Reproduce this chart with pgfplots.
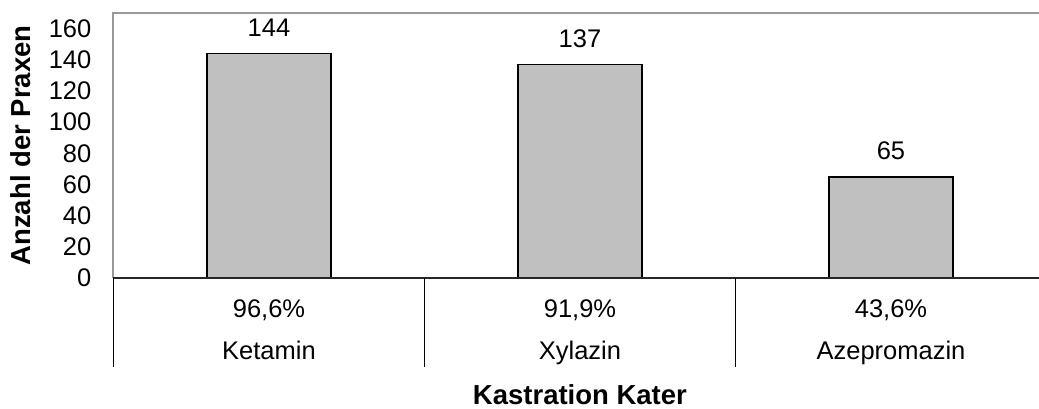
\documentclass[border=0pt]{standalone}
\usepackage{fontspec}
\setmainfont{Liberation Sans}
\usepackage{pgfplots}
\pgfplotsset{compat=1.18}
\definecolor{barfill}{HTML}{C0C0C0}
\definecolor{framegray}{HTML}{999999}
\newcommand{\reg}{\fontsize{25.5}{30}\selectfont}
\newcommand{\bld}{\fontsize{27.5}{32}\selectfont\bfseries}
\begin{document}
\begin{tikzpicture}
\begin{axis}[
  scale only axis,
  width=925.5pt, height=265pt,
  xmin=-0.5, xmax=2.476,
  ymin=0, ymax=170,
  clip=false,
  axis line style={draw=none},
  ytick={0,20,...,160},
  xtick=data,
  xticklabels={Ketamin,Xylazin,Azepromazin},
  major tick length=0pt,
  /pgf/number format/assume math mode=true,
  tick label style={font=\reg},
  yticklabel style={anchor=east, inner sep=0pt, xshift=-22pt},
  xticklabel style={anchor=base, inner sep=0pt, yshift=-81pt},
  xlabel={Kastration Kater},
  xlabel style={font=\bld, at={(axis description cs:0.504,0)}, anchor=base, inner sep=0pt, yshift=-126pt},
  ylabel={Anzahl der Praxen},
  ylabel style={font=\bld, at={([xshift=-92.5pt]axis description cs:0,0.5)}, anchor=center},
  ybar, bar width=124pt,
  nodes near coords,
  every node near coord/.append style={font=\reg, anchor=base, inner sep=0pt, yshift=17pt},
]
\addplot[fill=barfill, draw=black, line width=1.8pt] coordinates {(0,144) (1,137) (2,65)};
\draw[framegray, line width=2pt] (rel axis cs:0,0) -- (rel axis cs:0,1) -- (rel axis cs:1,1);
\draw[black!85, line width=1.8pt] (rel axis cs:0,0) -- (rel axis cs:1,0);
\draw[black, line width=1.3pt] (axis cs:-0.5,0) -- ([yshift=-89pt]axis cs:-0.5,0);
\draw[black, line width=1.3pt] (axis cs:0.5,0) -- ([yshift=-89pt]axis cs:0.5,0);
\draw[black, line width=1.3pt] (axis cs:1.5,0) -- ([yshift=-89pt]axis cs:1.5,0);
\node[font=\reg, anchor=base, inner sep=0pt] at ([yshift=-39pt]axis cs:0,0) {96,6\%};
\node[font=\reg, anchor=base, inner sep=0pt] at ([yshift=-39pt]axis cs:1,0) {91,9\%};
\node[font=\reg, anchor=base, inner sep=0pt] at ([yshift=-39pt]axis cs:2,0) {43,6\%};
\coordinate (bl) at (rel axis cs:0,0);
\end{axis}
\pgfresetboundingbox
\path[use as bounding box] (bl) ++(-113.5pt,-130pt) rectangle ++(1039pt,408pt);
\end{tikzpicture}
\end{document}
